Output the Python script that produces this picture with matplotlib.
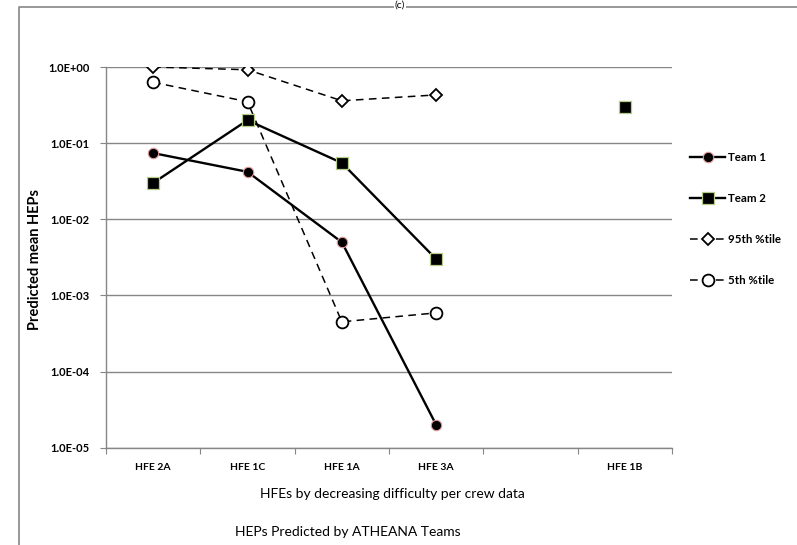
import matplotlib.pyplot as plt
import numpy as np
from matplotlib.lines import Line2D
from matplotlib.ticker import FixedLocator, NullFormatter

plt.rcParams['font.family'] = ['Lato', 'DejaVu Sans']

categories = ['HFE 2A', 'HFE 1C', 'HFE 1A', 'HFE 3A', '', 'HFE 1B']
team1 = [0.074, 0.042, 0.005, 2.0e-5, np.nan, np.nan]
team2 = [0.030, 0.20, 0.055, 0.003, np.nan, 0.30]
p95 = [1.0, 0.92, 0.36, 0.43, np.nan, np.nan]
p5 = [0.63, 0.35, 4.5e-4, 5.9e-4, np.nan, np.nan]

fig = plt.figure(figsize=(7.97, 5.45), dpi=100)
ax = fig.add_axes([106 / 797, 1 - 447.7 / 545, 566 / 797, 380.7 / 545])

x = np.arange(len(categories))
dash = (0, (5, 3.5))

ax.plot(x, p95, color='black', lw=1.1, ls=dash, marker='D', ms=6.5,
        mfc='white', mec='black', mew=1.3, label='95th %tile', zorder=3)
ax.plot(x, p5, color='black', lw=1.1, ls=dash, marker='o', ms=8.5,
        mfc='white', mec='black', mew=1.3, label='5th %tile', zorder=3)
ax.plot(x, team1, color='black', lw=1.7, marker='o', ms=7.5,
        mfc='black', mec='#E39A9A', mew=0.8, label='Team 1', zorder=4)
ax.plot(x, team2, color='black', lw=1.7, marker='s', ms=8,
        mfc='black', mec='#B5CC8A', mew=0.9, label='Team 2', zorder=4)

ax.set_yscale('log')
ax.set_ylim(1e-5, 1.0)
ax.set_xlim(-0.5, len(categories) - 0.5)

yt = [1e-5, 1e-4, 1e-3, 1e-2, 1e-1, 1e0]
ax.yaxis.set_major_locator(FixedLocator(yt))
ax.set_yticklabels(['1.0E-05', '1.0E-04', '1.0E-03', '1.0E-02', '1.0E-01', '1.0E+00'],
                   fontsize=8, fontweight='bold')
ax.yaxis.set_minor_formatter(NullFormatter())
ax.tick_params(axis='y', which='minor', length=0)
ax.tick_params(axis='y', which='major', length=4, width=0.8, color='#868686', pad=8)

ax.set_xticks(np.arange(len(categories) + 1) - 0.5)
ax.set_xticklabels([])
ax.set_xticks(x, minor=True)
ax.set_xticklabels(categories, minor=True, fontsize=7.5, fontweight='bold')
ax.tick_params(axis='x', which='major', length=4, width=0.8, color='#868686')
ax.tick_params(axis='x', which='minor', length=0, pad=11)

ax.grid(axis='y', which='major', color='#868686', lw=1)
ax.set_axisbelow(True)
for s in ['top', 'right']:
    ax.spines[s].set_visible(False)
for s in ['left', 'bottom']:
    ax.spines[s].set_color('#868686')
    ax.spines[s].set_linewidth(1)

fig.text(392 / 797, 1 - 494 / 545, 'HFEs by decreasing difficulty per crew data',
         ha='center', va='center', fontsize=10)
fig.text(35 / 797, 1 - 259 / 545, 'Predicted mean HEPs', rotation=90,
         ha='center', va='center', fontsize=10.5, fontweight='bold')
fig.text(348 / 797, 1 - 532 / 545, 'HEPs Predicted by ATHEANA Teams',
         ha='center', va='center', fontsize=10)

# outer frame (cut off at right and bottom)
fig.add_artist(Line2D([18.7 / 797, 18.7 / 797, 1.0], [0.0, 1 - 7 / 545, 1 - 7 / 545],
                      transform=fig.transFigure, color='#868686', lw=1.2))
fig.text(400 / 797, 1 - 1 / 545, '(c)', ha='center', va='top', fontsize=7.5,
         bbox=dict(facecolor='white', edgecolor='none', pad=0.5))

h, l = ax.get_legend_handles_labels()
order = [2, 3, 0, 1]
ax.legend([h[i] for i in order], [l[i] for i in order], loc='upper left',
          bbox_to_anchor=(680 / 797, 1 - 142 / 545), bbox_transform=fig.transFigure,
          frameon=False, numpoints=1, handlelength=3.0,
          handletextpad=0.3, labelspacing=2.6, prop={'weight': 'bold', 'size': 8.3})

fig.savefig('out.png', dpi=100)
